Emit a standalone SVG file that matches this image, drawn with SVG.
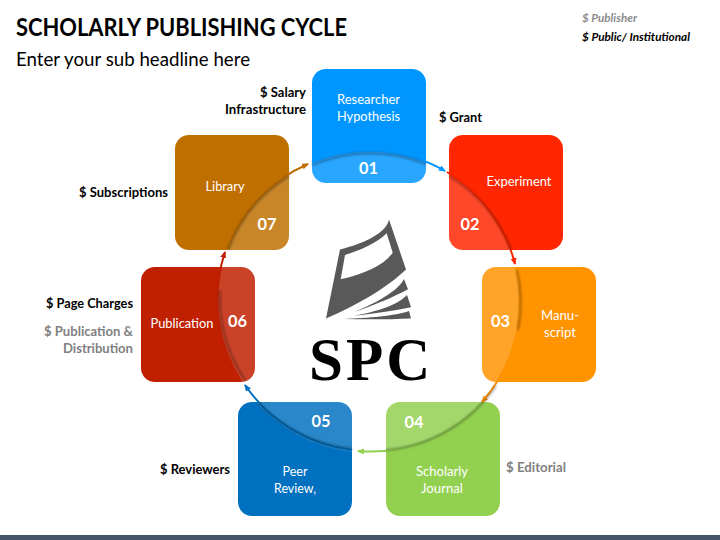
<svg xmlns="http://www.w3.org/2000/svg" width="720" height="540" viewBox="0 0 720 540">
<style>
text{font-family:Lato,"Noto Sans","Liberation Sans",sans-serif}
.n{fill:#fff;font-size:12.5px;text-anchor:middle}
.num{fill:#fff;font-size:17px;font-weight:700;text-anchor:middle}
.l{fill:#000;font-size:12.5px;font-weight:700}
.g{fill:#7f7f7f;font-size:12.5px;font-weight:700}
.a{fill:none;stroke-width:2}
</style>
<defs>
<filter id="s" x="-10%" y="-10%" width="120%" height="120%"><feGaussianBlur stdDeviation="1"/></filter>
<marker id="mBlue" markerWidth="8" markerHeight="8" refX="6" refY="3" orient="auto" markerUnits="userSpaceOnUse"><path d="M0 0L7 3L0 6Z" fill="#0096ff"/></marker>
<marker id="mRed" markerWidth="8" markerHeight="8" refX="6" refY="3" orient="auto" markerUnits="userSpaceOnUse"><path d="M0 0L7 3L0 6Z" fill="#ff2600"/></marker>
<marker id="mOrange" markerWidth="8" markerHeight="8" refX="6" refY="3" orient="auto" markerUnits="userSpaceOnUse"><path d="M0 0L7 3L0 6Z" fill="#ff9300"/></marker>
<marker id="mGreen" markerWidth="8" markerHeight="8" refX="6" refY="3" orient="auto" markerUnits="userSpaceOnUse"><path d="M0 0L7 3L0 6Z" fill="#92d050"/></marker>
<marker id="mDeep" markerWidth="8" markerHeight="8" refX="6" refY="3" orient="auto" markerUnits="userSpaceOnUse"><path d="M0 0L7 3L0 6Z" fill="#0070c0"/></marker>
<marker id="mDark" markerWidth="8" markerHeight="8" refX="6" refY="3" orient="auto" markerUnits="userSpaceOnUse"><path d="M0 0L7 3L0 6Z" fill="#c01f00"/></marker>
<marker id="mBrown" markerWidth="8" markerHeight="8" refX="6" refY="3" orient="auto" markerUnits="userSpaceOnUse"><path d="M0 0L7 3L0 6Z" fill="#bf6f00"/></marker>
</defs>
<rect width="720" height="540" fill="#fff"/>
<rect y="535" width="720" height="5" fill="#44546a"/>
<text x="16" y="36" font-size="24" font-weight="700" fill="#000" textLength="331" lengthAdjust="spacingAndGlyphs">SCHOLARLY PUBLISHING CYCLE</text>
<text x="16" y="66" font-size="18.5" fill="#000" textLength="234" lengthAdjust="spacingAndGlyphs">Enter your sub headline here</text>
<text x="582" y="22" font-size="11" font-weight="700" font-style="italic" fill="#8c8c8c" textLength="55" lengthAdjust="spacingAndGlyphs">$ Publisher</text>
<text x="582" y="41" font-size="11" font-weight="700" font-style="italic" fill="#000" textLength="108" lengthAdjust="spacingAndGlyphs">$ Public/ Institutional</text>

<g id="node-01"><rect x="312" y="69" width="114" height="114" rx="14" fill="#0096ff"/></g>
<g id="node-02"><rect x="449" y="135" width="114" height="115" rx="14" fill="#ff2600"/></g>
<g id="node-03"><rect x="482" y="267" width="114" height="115" rx="14" fill="#ff9300"/></g>
<g id="node-04"><rect x="386" y="402" width="114" height="114" rx="14" fill="#92d050"/></g>
<g id="node-05"><rect x="238" y="402" width="114" height="114" rx="14" fill="#0070c0"/></g>
<g id="node-06"><rect x="141" y="267" width="114" height="115" rx="14" fill="#c01f00"/></g>
<g id="node-07"><rect x="175" y="135" width="114" height="115" rx="14" fill="#bf6f00"/></g>

<circle id="lens" cx="369" cy="302" r="151" fill="#fff" fill-opacity="0.16"/>

<g id="connectors">
<path class="a" d="M312 162A151 151 0 0 1 445 171" stroke="#0096ff" marker-end="url(#mBlue)"/>
<path class="a" d="M447 172A151 151 0 0 1 515 264" stroke="#ff2600" marker-end="url(#mRed)"/>
<path class="a" d="M516 268A151 151 0 0 1 482 402" stroke="#ff9300" marker-end="url(#mOrange)"/>
<path class="a" d="M480 405A151 151 0 0 1 358 451" stroke="#92d050" marker-end="url(#mGreen)"/>
<path class="a" d="M352 450A151 151 0 0 1 245 385" stroke="#0070c0" marker-end="url(#mDeep)"/>
<path class="a" d="M241 381A151 151 0 0 1 225 252" stroke="#c01f00" marker-end="url(#mDark)"/>
<path class="a" d="M227 249A151 151 0 0 1 308 164" stroke="#bf6f00" marker-end="url(#mBrown)"/>
<g filter="url(#s)" fill="none" stroke="#000" stroke-opacity="0.32" stroke-width="2.200">
<path d="M312 165A149 149 0 0 1 426 164"/>
<path d="M449 176A149 149 0 0 1 511 250"/>
<path d="M517 270A149 149 0 0 1 518 330"/>
<path d="M496 386A149 149 0 0 1 386 450"/>
<path d="M352 449A149 149 0 0 1 258 402"/>
<path d="M245 380A149 149 0 0 1 220 290"/>
<path d="M228 250A149 149 0 0 1 289 176"/>
</g>
</g>

<g id="logo" fill="#595959">
<path fill-rule="evenodd" d="M326 318.500L340 249.500C366 243 387 232 389 219.500L406 269.500C388 287 356 306 326 318.500ZM345 255L340.700 279.300C365 274 384 265 392.700 252.700L386.700 233.300C377 243 361 250 345 255Z"/>
<path d="M355 311.700C376 303 398 291 404 279L408 289.300C392 298 372 306 355 311.700Z"/>
<path d="M352.700 316C376 312 398 305 407 295L411 307.300C392 311 372 314 352.700 316Z"/>
<path d="M344 319C368 318 395 316 409 311L411 318.500C390 319.500 366 319.500 344 319Z"/>
</g>
<text id="spc" x="309" y="380" font-size="61" font-weight="700" letter-spacing="3" fill="#000" style="font-family:'Liberation Serif',serif">SPC</text>

<g id="labels">
<text class="n" x="368.500" y="104" textLength="63" lengthAdjust="spacingAndGlyphs">Researcher</text>
<text class="n" x="368.500" y="121" textLength="63" lengthAdjust="spacingAndGlyphs">Hypothesis</text>
<text class="num" x="368.500" y="174" textLength="19" lengthAdjust="spacingAndGlyphs">01</text>
<text class="n" x="519" y="186" textLength="65" lengthAdjust="spacingAndGlyphs">Experiment</text>
<text class="num" x="470" y="230" textLength="19" lengthAdjust="spacingAndGlyphs">02</text>
<text class="n" x="560" y="320" textLength="38" lengthAdjust="spacingAndGlyphs">Manu-</text>
<text class="n" x="560" y="337" textLength="32" lengthAdjust="spacingAndGlyphs">script</text>
<text class="num" x="500.500" y="327" textLength="19" lengthAdjust="spacingAndGlyphs">03</text>
<text class="num" x="414" y="428" textLength="19" lengthAdjust="spacingAndGlyphs">04</text>
<text class="n" x="442" y="476" textLength="52" lengthAdjust="spacingAndGlyphs">Scholarly</text>
<text class="n" x="442" y="493" textLength="42" lengthAdjust="spacingAndGlyphs">Journal</text>
<text class="num" x="321" y="427" textLength="19" lengthAdjust="spacingAndGlyphs">05</text>
<text class="n" x="295" y="476" textLength="25" lengthAdjust="spacingAndGlyphs">Peer</text>
<text class="n" x="295" y="493" textLength="42" lengthAdjust="spacingAndGlyphs">Review,</text>
<text class="n" x="182" y="328" textLength="63" lengthAdjust="spacingAndGlyphs">Publication</text>
<text class="num" x="237.500" y="327" textLength="19" lengthAdjust="spacingAndGlyphs">06</text>
<text class="n" x="225" y="191" textLength="39" lengthAdjust="spacingAndGlyphs">Library</text>
<text class="num" x="267" y="230" textLength="19" lengthAdjust="spacingAndGlyphs">07</text>
<text class="l" x="306" y="97" text-anchor="end" textLength="46" lengthAdjust="spacingAndGlyphs">$ Salary</text>
<text class="l" x="306" y="114" text-anchor="end" textLength="81" lengthAdjust="spacingAndGlyphs">Infrastructure</text>
<text class="l" x="439" y="122" textLength="43" lengthAdjust="spacingAndGlyphs">$ Grant</text>
<text class="l" x="79" y="197" textLength="89" lengthAdjust="spacingAndGlyphs">$ Subscriptions</text>
<text class="l" x="46" y="308" textLength="87" lengthAdjust="spacingAndGlyphs">$ Page Charges</text>
<text class="g" x="133" y="336" text-anchor="end" textLength="89" lengthAdjust="spacingAndGlyphs">$ Publication &amp;</text>
<text class="g" x="133" y="353" text-anchor="end" textLength="70" lengthAdjust="spacingAndGlyphs">Distribution</text>
<text class="l" x="160" y="474" textLength="70" lengthAdjust="spacingAndGlyphs">$ Reviewers</text>
<text class="g" x="506" y="472" textLength="60" lengthAdjust="spacingAndGlyphs">$ Editorial</text>
</g>
</svg>
